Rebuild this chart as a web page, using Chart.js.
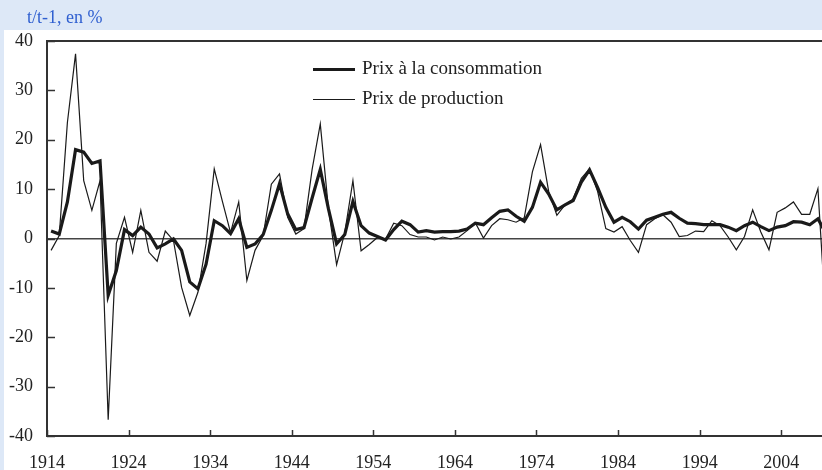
<!DOCTYPE html>
<html>
<head>
<meta charset="utf-8">
<script src="https://cdn.jsdelivr.net/npm/chart.js@4/dist/chart.umd.min.js"></script>
<style>
  body { margin: 0; background: #dde8f7; overflow: hidden; }
  #wrap { position: relative; width: 822px; height: 470px; font-family: "Liberation Serif", serif; }
  #c { position: absolute; left: 0; top: 0; }
  .unit { position: absolute; left: 27px; top: 7px; font-size: 18px; color: #2f5fd0; }
  .leg { position: absolute; left: 313px; font-size: 19px; color: #222; }
  .leg span { display: inline-block; width: 42px; background: #1a1a1a; vertical-align: middle; margin-right: 7px; }
</style>
</head>
<body>
<div id="wrap">
  <canvas id="c" width="822" height="470"></canvas>
  <div class="unit">t/t-1, en %</div>
  <div class="leg" style="top:57px"><span style="height:3px"></span>Prix à la consommation</div>
  <div class="leg" style="top:87px"><span style="height:1px"></span>Prix de production</div>
</div>
<script>
const years = [];
for (let y = 1914; y <= 2009; y++) years.push(y);

// prix à la consommation, t/t-1 en %
const consommation = [
  1.5, 0.9, 7.4, 18.0, 17.5, 15.2, 15.7, -11.5, -6.5, 1.8,
  0.6, 2.3, 0.9, -1.9, -1.1, -0.1, -2.4, -8.8, -10.2, -5.2,
  3.6, 2.6, 1.0, 4.0, -1.8, -1.1, 0.8, 5.7, 11.1, 5.0,
  1.8, 2.2, 8.2, 14.0, 6.0, -1.1, 0.8, 7.5, 2.6, 1.1,
  0.4, -0.3, 1.8, 3.5, 2.8, 1.3, 1.6, 1.3, 1.4, 1.4,
  1.5, 1.9, 3.1, 2.8, 4.2, 5.5, 5.8, 4.5, 3.5, 6.3,
  11.4, 9.0, 5.8, 6.8, 7.7, 11.4, 13.9, 10.3, 6.3, 3.3,
  4.3, 3.4, 1.9, 3.7, 4.3, 4.9, 5.3, 4.1, 3.1, 3.0,
  2.8, 2.8, 2.8, 2.3, 1.6, 2.6, 3.3, 2.4, 1.6, 2.3,
  2.6, 3.4, 3.3, 2.8, 4.0, 1.0
];

// prix de production
const production = [
  -2.4, 0.6, 23.5, 37.4, 11.7, 5.7, 11.7, -36.7, -1.0, 4.3,
  -2.8, 5.7, -2.8, -4.6, 1.5, -0.4, -9.9, -15.6, -10.9, -1.0,
  14.1, 7.5, 1.2, 7.4, -8.5, -2.4, 0.6, 11.0, 13.1, 4.3,
  0.9, 2.0, 14.0, 23.2, 6.0, -5.3, 1.2, 11.7, -2.5, -1.2,
  0.2, -0.1, 3.1, 2.6, 0.8, 0.3, 0.3, -0.3, 0.3, -0.1,
  0.3, 1.6, 3.2, 0.1, 2.6, 4.0, 3.8, 3.3, 4.2, 13.5,
  19.0, 9.5, 4.7, 6.8, 8.0, 12.2, 14.1, 9.5, 2.0, 1.3,
  2.4, -0.4, -2.8, 2.8, 4.0, 4.8, 3.3, 0.4, 0.6, 1.5,
  1.4, 3.6, 2.6, 0.3, -2.3, 0.4, 5.8, 1.3, -2.3, 5.3,
  6.2, 7.4, 4.9, 4.9, 10.1, -17
];

const tickYears = [1914, 1924, 1934, 1944, 1954, 1964, 1974, 1984, 1994, 2004];
const yTicks = [-40, -30, -20, -10, 0, 10, 20, 30, 40];

const font = { family: "Liberation Serif", size: 18 };

const frame = {
  id: 'frame',
  beforeDraw(chart) {
    const ctx = chart.ctx;
    ctx.save();
    ctx.fillStyle = '#dde8f7';
    ctx.fillRect(0, 0, chart.width, chart.height);
    ctx.fillStyle = '#ffffff';
    ctx.fillRect(4, 30, chart.width - 4, chart.height - 30);
    ctx.restore();
  },
  afterDraw(chart) {
    const ctx = chart.ctx;
    const a = chart.chartArea;
    const xs = chart.scales.x, ys = chart.scales.y;
    ctx.save();
    ctx.strokeStyle = '#333';
    ctx.lineWidth = 2;
    ctx.beginPath();
    ctx.moveTo(a.left, a.top);
    ctx.lineTo(a.right, a.top);
    ctx.stroke();
    ctx.lineWidth = 1.5;
    ys.ticks.forEach(t => {
      const py = Math.round(ys.getPixelForValue(t.value)) + 0.5;
      ctx.beginPath();
      ctx.moveTo(a.left, py);
      ctx.lineTo(a.left + 8, py);
      ctx.stroke();
    });
    xs.ticks.forEach(t => {
      const px = Math.round(xs.getPixelForValue(t.value)) + 0.5;
      ctx.beginPath();
      ctx.moveTo(px, a.bottom);
      ctx.lineTo(px, a.bottom - 6);
      ctx.stroke();
    });
    ctx.restore();
  }
};

new Chart(document.getElementById('c'), {
  type: 'line',
  data: {
    datasets: [
      {
        label: 'Prix à la consommation',
        data: years.map((y, i) => ({ x: y, y: consommation[i] })),
        borderColor: '#1a1a1a',
        borderWidth: 3.2,
        pointRadius: 0,
        tension: 0
      },
      {
        label: 'Prix de production',
        data: years.map((y, i) => ({ x: y, y: production[i] })),
        borderColor: '#1a1a1a',
        borderWidth: 1.2,
        pointRadius: 0,
        tension: 0
      }
    ]
  },
  options: {
    responsive: false,
    animation: false,
    layout: { padding: { top: 41, right: 0, bottom: 0, left: 0 } },
    plugins: { legend: { display: false }, tooltip: { enabled: false } },
    scales: {
      x: {
        type: 'linear',
        min: 1913.5,
        max: 2008.5,
        afterFit: s => { s.height = 34; },
        afterBuildTicks: s => { s.ticks = tickYears.map(v => ({ value: v - 0.5 })); },
        grid: { display: false },
        border: { display: true, color: '#333', width: 2 },
        ticks: {
          font: font, color: '#222', padding: 8, maxRotation: 0, autoSkip: false,
          callback: v => String(Math.round(v + 0.5))
        }
      },
      y: {
        min: -40,
        max: 40,
        afterFit: s => { s.width = 47; },
        afterBuildTicks: s => { s.ticks = yTicks.map(v => ({ value: v })); },
        grid: {
          drawTicks: false,
          color: c => (c.tick && c.tick.value === 0) ? '#444' : 'rgba(0,0,0,0)',
          lineWidth: 1.5
        },
        border: { display: true, color: '#333', width: 2 },
        ticks: { font: font, color: '#222', padding: 14 }
      }
    }
  },
  plugins: [frame]
});
</script>
</body>
</html>
